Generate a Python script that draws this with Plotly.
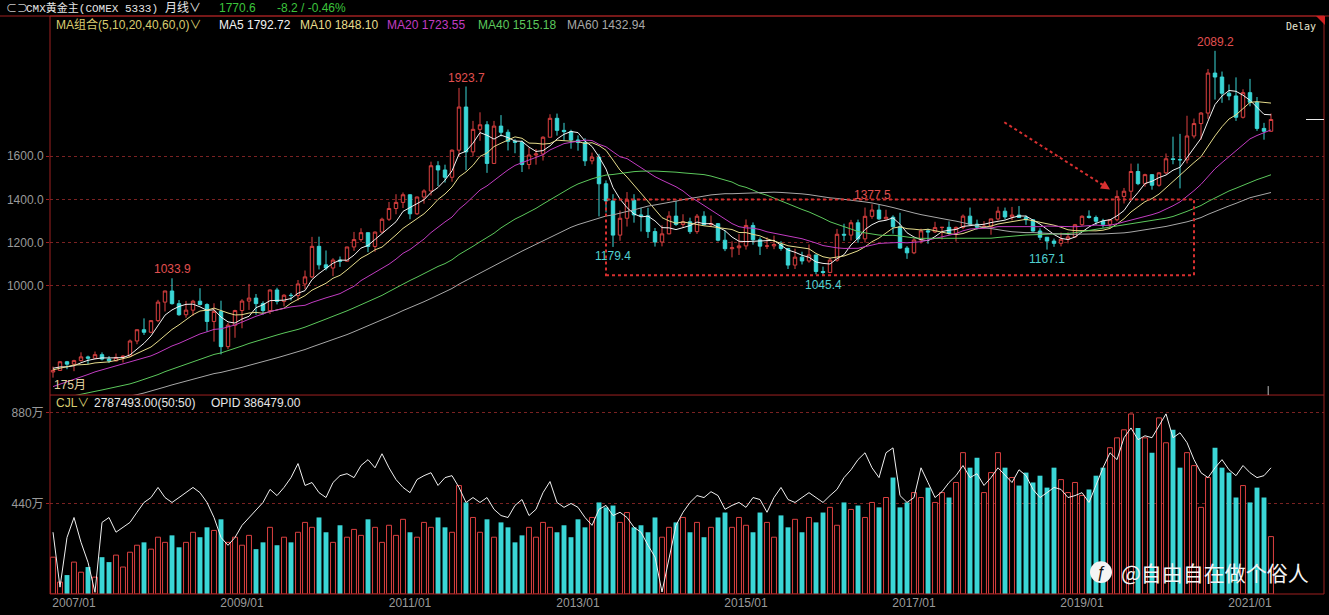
import plotly.graph_objects as go
import pandas as pd

# ---------------- data ----------------
months = list(pd.period_range("2006-10", periods=175, freq="M").strftime("%Y/%m"))

opens = [599.3, 606.5, 646.7,
    635.7, 652.0, 669.3, 663.0, 679.5, 659.2, 650.9, 666.9, 672.8, 743.0, 795.3, 783.5,
    837.5, 923.4, 975.0, 916.2, 864.8, 886.2, 927.6, 912.1, 833.7, 880.3, 716.8, 816.2,
    884.3, 928.3, 942.0, 916.5, 884.2, 979.7, 926.8, 955.4, 953.8, 1007.5, 1040.4, 1182.1,
    1096.2, 1081.6, 1118.3, 1113.3, 1179.2, 1213.4, 1245.5, 1181.6, 1248.3, 1307.8, 1357.6, 1386.1,
    1421.4, 1333.1, 1411.0, 1439.0, 1556.0, 1536.4, 1502.6, 1628.3, 1828.5, 1620.4, 1725.0, 1746.1,
    1566.8, 1740.0, 1711.3, 1669.3, 1664.8, 1561.6, 1605.8, 1610.5, 1688.4, 1776.1, 1720.2, 1714.3,
    1675.6, 1663.6, 1578.8, 1596.0, 1472.4, 1393.0, 1234.2, 1312.4, 1396.1, 1328.0, 1323.7, 1250.6,
    1202.3, 1240.1, 1322.4, 1283.8, 1296.0, 1250.5, 1322.0, 1282.8, 1287.4, 1210.6, 1171.1, 1175.5,
    1184.1, 1279.1, 1212.6, 1183.1, 1184.1, 1190.6, 1172.1, 1095.2, 1132.0, 1114.3, 1142.2, 1065.3,
    1061.1, 1118.1, 1238.1, 1234.2, 1291.4, 1216.9, 1321.4, 1350.5, 1309.6, 1317.1, 1273.1, 1174.0,
    1152.1, 1211.4, 1253.9, 1249.2, 1269.2, 1270.4, 1242.3, 1269.9, 1322.2, 1284.8, 1271.1, 1275.0,
    1309.3, 1345.2, 1318.6, 1327.3, 1316.2, 1305.2, 1253.2, 1224.3, 1206.7, 1196.2, 1215.0, 1226.0,
    1282.5, 1321.7, 1316.1, 1298.5, 1284.2, 1305.6, 1413.7, 1437.8, 1529.4, 1472.9, 1514.8, 1465.6,
    1523.1, 1588.3, 1585.0, 1583.4, 1694.2, 1751.7, 1800.5, 1985.9, 1967.6, 1892.5, 1879.9, 1780.9,
    1895.1, 1850.3, 1729.2, 1716.0]

highs = [624, 650, 650.5,
    656, 690.5, 675, 694, 690, 673, 685, 677, 750, 796, 848, 838,
    934, 976, 1033.9, 933, 929, 934, 988, 918, 918, 930, 827, 888,
    937, 1007.7, 961, 927, 982, 990, 960, 966, 1026, 1070, 1226, 1227,
    1163, 1127, 1135, 1180, 1249, 1266, 1246, 1251, 1315, 1388, 1424, 1432,
    1424, 1413, 1447, 1575, 1577, 1561, 1632, 1917, 1923.7, 1764, 1804, 1763,
    1764, 1791, 1724, 1679, 1673, 1640, 1634, 1693, 1795, 1798, 1755, 1723,
    1697, 1684, 1617, 1611, 1488, 1424, 1348, 1434, 1424, 1361, 1361, 1267,
    1280, 1345, 1392, 1331, 1315, 1332, 1345, 1325, 1290, 1255, 1205, 1239,
    1307, 1293, 1224, 1224, 1232, 1206, 1175, 1171, 1157, 1191, 1142.5, 1088,
    1128, 1263, 1287, 1305, 1306, 1362, 1377.5, 1375, 1352, 1326, 1338, 1183,
    1220, 1264, 1264, 1296, 1272, 1298, 1274, 1330, 1362, 1306, 1299, 1310,
    1366, 1362, 1365, 1369, 1326, 1309, 1266, 1224.5, 1218, 1246, 1247, 1286,
    1326, 1349, 1325, 1310, 1307, 1442, 1453, 1566, 1566, 1519, 1517, 1526,
    1613, 1691, 1704, 1788, 1775, 1805, 2005, 2089.2, 1993, 1933, 1966, 1911,
    1959, 1875, 1755, 1798]

lows = [573, 604, 612,
    603, 648, 636, 660, 653, 641, 648, 643, 668, 728, 771, 779,
    830, 880, 912, 860, 851, 860, 908, 786, 740, 681, 705, 758,
    802, 887, 865, 865, 868, 913, 904, 931, 931, 983, 1035, 1075,
    1071, 1044, 1087, 1112, 1161, 1203, 1155, 1157, 1242, 1300, 1331, 1360,
    1308, 1328, 1380, 1418, 1462, 1478, 1482, 1600, 1535, 1600, 1672, 1523,
    1564, 1692, 1627, 1614, 1527, 1540, 1561, 1580, 1688, 1696, 1672, 1635,
    1626, 1555, 1563, 1321, 1339, 1179.4, 1208, 1274, 1292, 1251, 1221, 1181,
    1182, 1238, 1277, 1268, 1240, 1240, 1280, 1272, 1205, 1160, 1131, 1142,
    1167, 1190, 1142, 1170, 1169, 1162, 1077, 1077, 1098, 1106, 1052, 1045.4,
    1058, 1111, 1208, 1209, 1199, 1200, 1310, 1305, 1306, 1241, 1171, 1124,
    1146, 1195, 1194, 1244, 1214, 1236, 1204, 1262, 1277, 1260, 1264, 1236,
    1302, 1308, 1303, 1314, 1282, 1250, 1211, 1167.1, 1180, 1182, 1196, 1222,
    1277, 1311, 1281, 1269, 1266, 1298, 1381, 1400, 1466, 1459, 1445, 1459,
    1517, 1563, 1451, 1567, 1683, 1677, 1773, 1863, 1848, 1860, 1764, 1775,
    1832, 1718, 1677, 1714]

closes = [606.5, 646.7, 635.7,
    652.0, 669.3, 663.0, 679.5, 659.2, 650.9, 666.9, 672.8, 743.0, 795.3, 783.5, 837.5,
    923.4, 975.0, 916.2, 864.8, 886.2, 927.6, 912.1, 833.7, 880.3, 716.8, 816.2, 884.3,
    928.3, 942.0, 916.5, 884.2, 979.7, 926.8, 955.4, 953.8, 1007.5, 1040.4, 1182.1, 1096.2,
    1081.6, 1118.3, 1113.3, 1179.2, 1213.4, 1245.5, 1181.6, 1248.3, 1307.8, 1357.6, 1386.1, 1421.4,
    1333.1, 1411.0, 1439.0, 1556.0, 1536.4, 1502.6, 1628.3, 1828.5, 1620.4, 1725.0, 1746.1, 1566.8,
    1740.0, 1711.3, 1669.3, 1664.8, 1561.6, 1605.8, 1610.5, 1688.4, 1776.1, 1720.2, 1714.3, 1675.6,
    1663.6, 1578.8, 1596.0, 1472.4, 1393.0, 1234.2, 1312.4, 1396.1, 1328.0, 1323.7, 1250.6, 1202.3,
    1240.1, 1322.4, 1283.8, 1296.0, 1250.5, 1322.0, 1282.8, 1287.4, 1210.6, 1171.1, 1175.5, 1184.1,
    1279.1, 1212.6, 1183.1, 1184.1, 1190.6, 1172.1, 1095.2, 1132.0, 1114.3, 1142.2, 1065.3, 1061.1,
    1118.1, 1238.1, 1234.2, 1291.4, 1216.9, 1321.4, 1350.5, 1309.6, 1317.1, 1273.1, 1174.0, 1152.1,
    1211.4, 1253.9, 1249.2, 1269.2, 1270.4, 1242.3, 1269.9, 1322.2, 1284.8, 1271.1, 1275.0, 1309.3,
    1345.2, 1318.6, 1327.3, 1316.2, 1305.2, 1253.2, 1224.3, 1206.7, 1196.2, 1215.0, 1226.0, 1282.5,
    1321.7, 1316.1, 1298.5, 1284.2, 1305.6, 1413.7, 1437.8, 1529.4, 1472.9, 1514.8, 1465.6, 1523.1,
    1588.3, 1585.0, 1583.4, 1694.2, 1751.7, 1800.5, 1985.9, 1967.6, 1892.5, 1879.9, 1780.9, 1895.1,
    1850.3, 1729.2, 1716.0, 1770.6]

# monthly closes before the visible window (2001/11 - 2006/09), used for moving averages
pre_closes = [275.5, 278.7,
    282.3, 296.9, 302.2, 308.6, 326.6, 318.5, 304.7, 312.8, 323.7, 316.9, 317.7, 347.6,
    367.5, 347.5, 334.9, 336.8, 361.4, 346.0, 354.8, 375.6, 388.0, 383.8, 397.9, 416.1,
    399.8, 395.9, 426.7, 388.5, 393.3, 394.7, 391.4, 409.3, 420.4, 429.4, 452.5, 438.0,
    422.2, 434.5, 428.4, 435.7, 417.1, 436.1, 429.8, 434.5, 473.3, 470.8, 495.7, 518.9,
    569.5, 557.1, 584.0, 655.0, 643.0, 616.0, 634.7, 626.0, 599.3]

# volume (万手) and open interest (千手)
volume = [179, 58, 92, 155, 106, 131, 82, 179, 155, 189, 131, 203,
    237, 251, 218, 276, 251, 285, 227, 251, 300, 276, 324, 309, 363, 251, 276,
    237, 285, 218, 251, 324, 237, 276, 251, 300, 348, 324, 372, 300, 251, 334, 276, 314, 285, 363,
    324, 251, 334, 285, 363, 300, 276, 348, 324, 372, 324, 300,
    527, 445, 372, 300, 363, 276, 348, 324, 251, 285, 324, 276, 348, 324, 300, 334, 276, 363, 324, 372,
    445, 421, 430, 348, 396, 324, 334, 300, 372, 276, 324, 348, 372, 300, 348, 276, 324, 372, 396, 324,
    372, 334, 300, 396, 348, 276, 382, 324, 363, 300, 372, 348, 396, 421, 334, 445, 411, 430, 372, 445,
    421, 469,
    566, 421, 445, 493, 469, 517, 445, 493, 469, 542, 687, 614, 662, 493, 590, 687, 614, 566, 527, 590,
    542, 575, 517, 614, 556, 493, 542, 479, 508, 575, 614, 711, 759, 798, 875, 807, 759, 687, 856, 735,
    798, 614, 687, 624, 421, 566, 711, 614, 590, 469, 527, 445, 517, 469, 279]

open_interest = [189, 21, 173, 234, 158, 97, 5, 219, 234, 189, 204, 219,
    250, 280, 295, 326, 295, 280, 295, 310, 326, 310, 280, 234, 173, 149, 173,
    210, 234, 259, 280, 320, 301, 326, 356, 399, 332, 341, 310, 295, 341, 362, 368, 356, 393, 411, 386,
    429, 386, 350, 326, 310, 350, 362, 371, 332, 356, 362,
    326, 280, 295, 280, 295, 259, 240, 234, 271, 289, 240, 259, 310, 344, 280, 265, 277, 265, 234, 210,
    259, 271, 240, 250, 234, 204, 189, 149, 113, 6, 113, 210, 250, 280, 301, 295, 313, 301, 259, 271,
    280, 265, 295, 289, 250, 295, 326, 289, 280, 295, 310, 295, 280, 301, 320, 356, 380, 411, 432, 386,
    356, 432,
    447, 301, 280, 295, 386, 341, 295, 313, 341, 362, 393, 356, 368, 332, 356, 386, 362, 341, 380, 362,
    320, 295, 310, 326, 320, 295, 301, 310, 280, 332, 386, 432, 411, 478, 508, 472, 484, 478, 514, 551,
    478, 493, 463, 411, 371, 356, 386, 411, 380, 362, 393, 371, 356, 362, 386]

ma_periods = [5, 10, 20, 40, 60]
ma_colors = ["#f2f2f2", "#e6dc8c", "#c23cc2", "#5cc85c", "#a8a8a8"]

x_tick_labels = ["2007/01", "2009/01", "2011/01", "2013/01", "2015/01", "2017/01", "2019/01", "2021/01"]
peak_months = ["2008/03", "2011/09", "2016/07", "2020/08"]
trough_months = ["2013/06", "2015/12", "2018/08"]

# ---------------- layout helpers ----------------
W, H = 1329, 615
L, R, T, B = 50, 5, 16, 18
PW, PH = W - L - R, H - T - B


def px(x):
    return (x - L) / PW


def py(y):
    return (H - B - y) / PH


SPLIT = py(397)
RED = "#dc4040"
CYAN = "#3ad6d6"
GRID = "#7a2222"
BORDER = "#9e2020"
FONT = "Liberation Sans, Noto Sans CJK SC, sans-serif"
MONO = "Liberation Mono, Noto Sans CJK SC, monospace"

idx = list(range(len(months)))
fig = go.Figure()

fig.add_trace(go.Candlestick(
    x=idx, open=opens, high=highs, low=lows, close=closes,
    increasing=dict(line=dict(color=RED, width=1), fillcolor="#000000"),
    decreasing=dict(line=dict(color=CYAN, width=1), fillcolor=CYAN),
    whiskerwidth=0, hoverinfo="skip", showlegend=False, xaxis="x", yaxis="y"))

all_c = pd.Series(pre_closes + closes)
for n, col in zip(ma_periods, ma_colors):
    ma = all_c.rolling(n).mean().iloc[len(pre_closes):].tolist()
    fig.add_trace(go.Scatter(x=idx, y=ma, mode="lines", line=dict(color=col, width=1),
                             hoverinfo="skip", showlegend=False, xaxis="x", yaxis="y"))

up = [i for i in idx if closes[i] >= opens[i]]
dn = [i for i in idx if closes[i] < opens[i]]
fig.add_trace(go.Bar(x=up, y=[volume[i] for i in up], width=0.7,
                     marker=dict(color="#000000", line=dict(color=RED, width=1)),
                     hoverinfo="skip", showlegend=False, xaxis="x", yaxis="y2"))
fig.add_trace(go.Bar(x=dn, y=[volume[i] for i in dn], width=0.7,
                     marker=dict(color=CYAN, line=dict(color=CYAN, width=0)),
                     hoverinfo="skip", showlegend=False, xaxis="x", yaxis="y2"))
fig.add_trace(go.Scatter(x=idx, y=open_interest, mode="lines", line=dict(color="#f0f0f0", width=1),
                         hoverinfo="skip", showlegend=False, xaxis="x", yaxis="y3"))

tick_pos = [months.index(t) for t in x_tick_labels]
axis_font = dict(family=FONT, size=12, color="#9a9a9a")

fig.update_layout(
    width=W, height=H,
    margin=dict(l=L, r=R, t=T, b=B, pad=0),
    paper_bgcolor="#000000", plot_bgcolor="#000000",
    barmode="overlay", showlegend=False,
    xaxis=dict(domain=[0, 1], range=[-3 / 7, 1271 / 7], anchor="y2",
               tickvals=tick_pos, ticktext=x_tick_labels, tickfont=axis_font,
               showgrid=False, zeroline=False, showline=False, ticks="",
               rangeslider=dict(visible=False)),
    yaxis=dict(domain=[SPLIT, 1], range=[492.31, 2250.77], anchor="x",
               tickvals=[1000, 1200, 1400, 1600],
               ticktext=["1000.0", "1200.0", "1400.0", "1600.0"], tickfont=axis_font,
               showgrid=True, gridcolor=GRID, griddash="3px,3px", gridwidth=1,
               zeroline=False, showline=False, ticks="outside", ticklen=3, tickcolor=BORDER),
    yaxis2=dict(domain=[0, SPLIT], range=[0, 967], anchor="x",
                tickvals=[440, 880], ticktext=["440万", "880万"], tickfont=axis_font,
                showgrid=True, gridcolor=GRID, griddash="3px,3px", gridwidth=1,
                zeroline=False, showline=False, ticks="outside", ticklen=3, tickcolor=BORDER),
    yaxis3=dict(overlaying="y2", range=[0, 608.6], visible=False, anchor="x"),
)

shapes = []
# panel borders
shapes.append(dict(type="rect", xref="paper", yref="paper", x0=0, x1=1, y0=0, y1=1,
                   line=dict(color=BORDER, width=1)))
shapes.append(dict(type="line", xref="paper", yref="paper", x0=0, x1=1, y0=SPLIT, y1=SPLIT,
                   line=dict(color=BORDER, width=1)))
shapes.append(dict(type="line", xref="paper", yref="paper", x0=px(0), x1=px(W), y0=1, y1=1,
                   line=dict(color=BORDER, width=1)))
# corner triangle
shapes.append(dict(type="path", xref="paper", yref="paper",
                   path=f"M {px(1316)},{py(16)} L {px(1325)},{py(16)} L {px(1325)},{py(25)} Z",
                   fillcolor="#d02020", line=dict(width=0)))
# consolidation box
bx0, bx1 = months.index("2013/05"), months.index("2020/05")
shapes.append(dict(type="rect", xref="x", yref="y", x0=bx0, x1=bx1, y0=1048, y1=1400,
                   line=dict(color="#d83030", width=2, dash="dot")))
# dotted arrow shaft
ax0, ax1 = months.index("2018/02") - 0.1, months.index("2019/05")
shapes.append(dict(type="line", xref="x", yref="y", x0=ax0, y0=1758, x1=ax1 - 0.3, y1=1452,
                   line=dict(color="#d83030", width=2, dash="dot")))
# current price marker
shapes.append(dict(type="line", xref="x", yref="y", x0=179, x1=181.6, y0=closes[-1], y1=closes[-1],
                   line=dict(color="#e8e8e8", width=1)))
shapes.append(dict(type="line", xref="x", yref="paper", x0=173.6, x1=173.6, y0=py(397), y1=py(388),
                   line=dict(color="#bbbbbb", width=1)))
# watermark logo
shapes.append(dict(type="circle", xref="paper", yref="paper",
                   x0=px(1090), x1=px(1112), y0=py(586), y1=py(564),
                   fillcolor="#f4f4f4", line=dict(width=0)))
fig.update_layout(shapes=shapes)

ann = []


def text(x, y, s, color, size=12, anchor="left", family=FONT):
    ann.append(dict(xref="paper", yref="paper", x=px(x), y=py(y), text=s, showarrow=False,
                    xanchor=anchor, yanchor="middle", font=dict(family=family, size=size, color=color)))


# header line 1
text(4, 8, "⊂⊃", "#c8c8c8", 11)
text(24, 8, "CMX黄金主(COMEX 5333)", "#e6e6e6", 11, family=MONO)
text(163, 8, "月线∨", "#e6e6e6", 12)
text(217, 8, "1770.6", "#3cc43c", 12)
text(275, 8, "-8.2 / -0.46%", "#3cc43c", 12)
# header line 2 (MA legend)
text(54, 25, "MA组合(5,10,20,40,60,0)∨", "#d8cc70", 12)
ma_legend = ["MA5 1792.72", "MA10 1848.10", "MA20 1723.55", "MA40 1515.18", "MA60 1432.94"]
for xx, s, col in zip([217, 298, 385, 476, 565], ma_legend, ma_colors):
    text(xx, 25, s, col, 12)
text(1284, 27, "Delay", "#e6e6d2", 10, family="DejaVu Sans Mono, monospace")
# volume header
text(54, 405, "CJL∨", "#d8cc70", 12)
text(92, 405, "2787493.00(50:50)", "#e6e6e6", 12)
text(209, 405, "OPID 386479.00", "#e6e6e6", 12)
text(52, 387, "175月", "#e0d2a0", 12)
# watermark
text(1101, 575, "ƒ", "#111111", 16, anchor="center")
text(1119, 575, "@自由自在做个俗人", "#f4f4f4", 21, family="Noto Sans CJK SC, sans-serif")

for m in peak_months:
    i = months.index(m)
    ann.append(dict(xref="x", yref="y", x=i, y=highs[i], text=f"{highs[i]:.1f}", showarrow=False,
                    yshift=9, yanchor="middle", xanchor="center",
                    font=dict(family=FONT, size=12, color="#e05050")))
for m in trough_months:
    i = months.index(m)
    ann.append(dict(xref="x", yref="y", x=i, y=lows[i], text=f"{lows[i]:.1f}", showarrow=False,
                    yshift=-9, yanchor="middle", xanchor="center",
                    font=dict(family=FONT, size=12, color="#50d0d0")))
# arrow head
ann.append(dict(xref="x", yref="y", x=ax1, y=1446, ax=-11, ay=-7, showarrow=True,
                arrowhead=2, arrowsize=1.2, arrowwidth=1.5, arrowcolor="#d83030", text=""))

fig.update_layout(annotations=ann)
fig.write_html("out.html", config={"displayModeBar": False})
